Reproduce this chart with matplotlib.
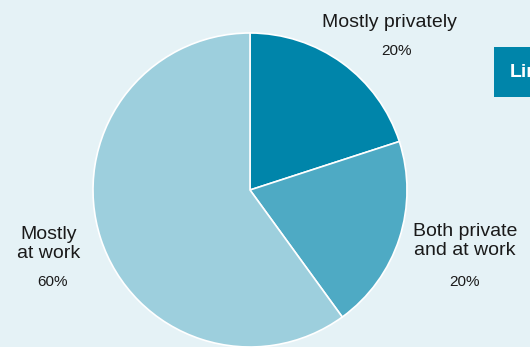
import matplotlib
matplotlib.use("Agg")
import matplotlib.pyplot as plt
from matplotlib.patches import Rectangle

categories = ["Mostly privately", "Both private\nand at work", "Mostly\nat work"]
shares = [20, 20, 60]
pct_labels = ["20%", "20%", "60%"]
colors = ["#0085aa", "#4eaac4", "#9dcfdd"]

W, H = 530, 347
bg = "#e5f2f6"

fig = plt.figure(figsize=(W / 100, H / 100), dpi=100, facecolor=bg)
ax = fig.add_axes([0, 0, 1, 1])
ax.set_facecolor(bg)
ax.set_xlim(0, W)
ax.set_ylim(0, H)
ax.set_aspect("equal")
ax.axis("off")

cx, cy, r = 250, H - 190, 157
ax.pie(shares, colors=colors, startangle=90, counterclock=False,
       center=(cx, cy), radius=r,
       wedgeprops=dict(edgecolor="white", linewidth=1.2))
ax.set_xlim(0, W)
ax.set_ylim(0, H)

font = "Liberation Sans"
name_pos = [(389, H - 22), (465, H - 241), (49, H - 244)]
pct_pos = [(397, H - 51), (464, H - 282), (53, H - 282)]
for name, pct, (nx, ny), (px, py) in zip(categories, pct_labels, name_pos, pct_pos):
    ax.text(nx, ny, name, ha="center", va="center", fontsize=14,
            family=font, color="#1a1a1a", linespacing=1.1)
    ax.text(px, py, pct, ha="center", va="center", fontsize=11,
            family=font, color="#1a1a1a")

# Button at the right edge
ax.add_patch(Rectangle((494, H - 97), 60, 50, facecolor="#0085aa",
                       edgecolor="none", clip_on=False))
ax.text(510, H - 72, "Link", ha="left", va="center", fontsize=14,
        fontweight="bold", family=font, color="white")

fig.savefig("out.png", dpi=100, facecolor=bg)
